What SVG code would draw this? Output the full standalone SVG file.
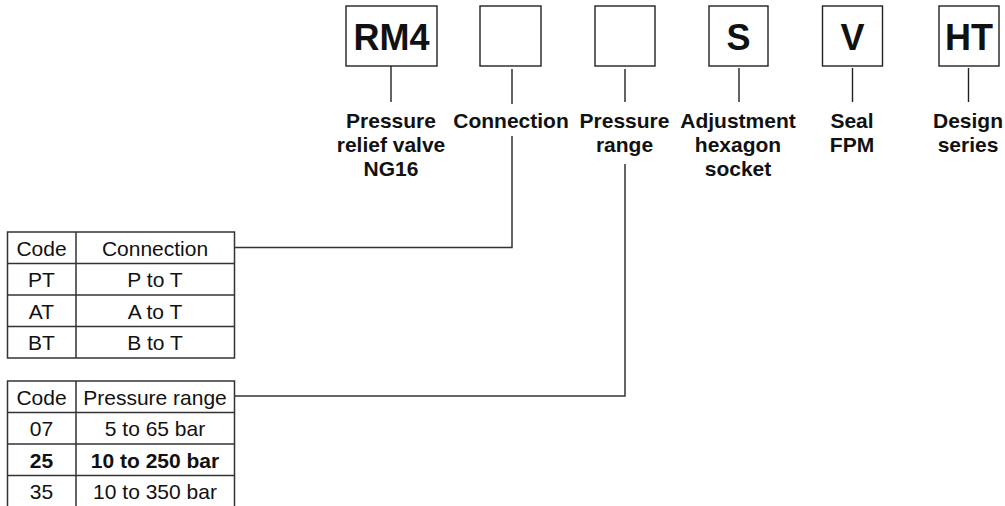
<svg xmlns="http://www.w3.org/2000/svg" width="1005" height="506" viewBox="0 0 1005 506">
<style>
.box{fill:#fff;stroke:#222;stroke-width:1.4}
.tick{stroke:#222;stroke-width:1.4;fill:none}
.conn{stroke:#333;stroke-width:1.5;fill:none}
.grid{stroke:#333;stroke-width:1.5;fill:none}
.code{font-family:"Liberation Sans",Arial,sans-serif;font-weight:bold;font-size:36px;fill:#111;text-anchor:middle}
.lbl{font-family:"Liberation Sans",Arial,sans-serif;font-weight:bold;font-size:21px;fill:#111;text-anchor:middle}
.cell{font-family:"Liberation Sans",Arial,sans-serif;font-size:21px;fill:#111;text-anchor:middle}
.b{font-weight:bold}
</style>
<rect width="1005" height="506" fill="#fff"/>
<g id="node-rm4">
<rect class="box" x="346" y="6" width="91" height="60"/>
<text class="code" x="391.5" y="50">RM4</text>
<line class="tick" x1="391" y1="66" x2="391" y2="102"/>
<text class="lbl" x="391" y="128">Pressure</text>
<text class="lbl" x="391" y="152">relief valve</text>
<text class="lbl" x="391" y="176">NG16</text>
</g>
<g id="node-connection">
<rect class="box" x="480" y="6" width="61" height="60"/>
<line class="tick" x1="512" y1="69" x2="512" y2="104"/>
<text class="lbl" x="511" y="128">Connection</text>
</g>
<g id="node-pressure-range">
<rect class="box" x="595" y="6" width="60" height="60"/>
<line class="tick" x1="625" y1="69" x2="625" y2="102"/>
<text class="lbl" x="624.5" y="128">Pressure</text>
<text class="lbl" x="624.5" y="152">range</text>
</g>
<g id="node-adjustment">
<rect class="box" x="709" y="6" width="59" height="60"/>
<text class="code" x="738.5" y="50">S</text>
<line class="tick" x1="739" y1="68" x2="739" y2="102"/>
<text class="lbl" x="738" y="128">Adjustment</text>
<text class="lbl" x="738" y="152">hexagon</text>
<text class="lbl" x="738" y="176">socket</text>
</g>
<g id="node-seal">
<rect class="box" x="822.5" y="6" width="60" height="60"/>
<text class="code" x="852.5" y="50">V</text>
<line class="tick" x1="852.5" y1="68" x2="852.5" y2="102"/>
<text class="lbl" x="852" y="128">Seal</text>
<text class="lbl" x="852" y="152">FPM</text>
</g>
<g id="node-design">
<rect class="box" x="939" y="6" width="60" height="60"/>
<text class="code" x="969" y="50">HT</text>
<line class="tick" x1="968.5" y1="68" x2="968.5" y2="102"/>
<text class="lbl" x="968" y="128">Design</text>
<text class="lbl" x="968" y="152">series</text>
</g>
<g id="table-connection">
<rect class="grid" x="7.5" y="232" width="227" height="126"/>
<line class="grid" x1="76" y1="232" x2="76" y2="358"/>
<line class="grid" x1="7.5" y1="263.5" x2="234.5" y2="263.5"/>
<line class="grid" x1="7.5" y1="295" x2="234.5" y2="295"/>
<line class="grid" x1="7.5" y1="326.5" x2="234.5" y2="326.5"/>
<text class="cell" x="41.5" y="255.5">Code</text>
<text class="cell" x="155" y="255.5">Connection</text>
<text class="cell" x="41.5" y="287">PT</text>
<text class="cell" x="155" y="287">P to T</text>
<text class="cell" x="41.5" y="318.5">AT</text>
<text class="cell" x="155" y="318.5">A to T</text>
<text class="cell" x="41.5" y="350">BT</text>
<text class="cell" x="155" y="350">B to T</text>
</g>
<g id="table-pressure">
<polyline class="grid" points="7.5,510 7.5,381 234.5,381 234.5,510"/>
<line class="grid" x1="76" y1="381" x2="76" y2="510"/>
<line class="grid" x1="7.5" y1="412.5" x2="234.5" y2="412.5"/>
<line class="grid" x1="7.5" y1="444" x2="234.5" y2="444"/>
<line class="grid" x1="7.5" y1="475.5" x2="234.5" y2="475.5"/>
<text class="cell" x="41.5" y="404.5">Code</text>
<text class="cell" x="155" y="404.5">Pressure range</text>
<text class="cell" x="41.5" y="436">07</text>
<text class="cell" x="155" y="436">5 to 65 bar</text>
<text class="cell b" x="41.5" y="467.5">25</text>
<text class="cell b" x="155" y="467.5">10 to 250 bar</text>
<text class="cell" x="41.5" y="499">35</text>
<text class="cell" x="155" y="499">10 to 350 bar</text>
</g>
<g id="connectors">
<polyline class="conn" points="234.5,247.5 512,247.5 512,136"/>
<polyline class="conn" points="234.5,396 625,396 625,164"/>
</g>
</svg>
